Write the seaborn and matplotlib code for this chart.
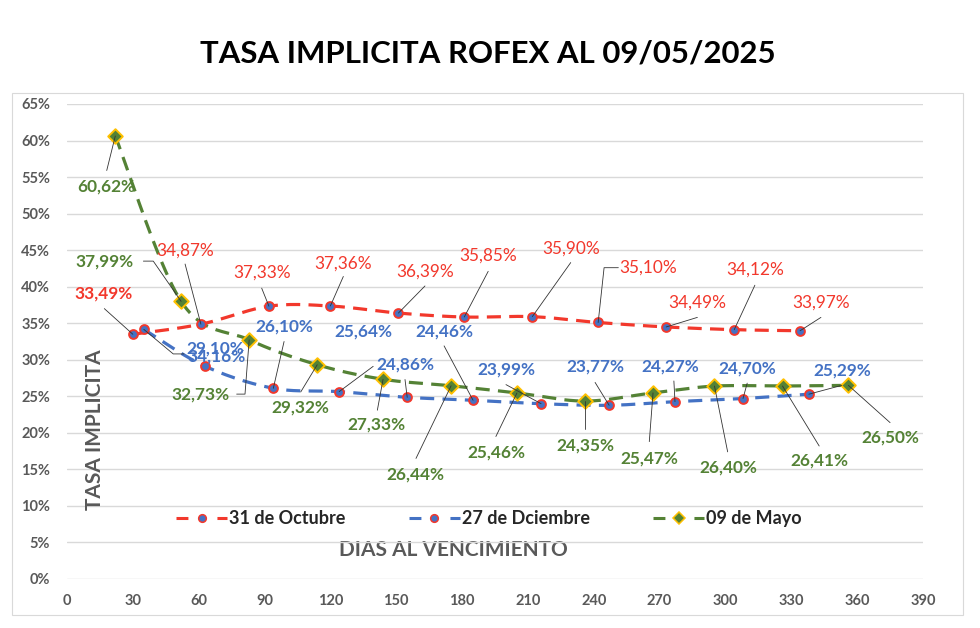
import numpy as np
import matplotlib
matplotlib.use("Agg")
import matplotlib.pyplot as plt
from matplotlib.lines import Line2D
from matplotlib.patches import Rectangle
import seaborn as sns

# dias al vencimiento / tasa implicita (%)
oct_days = [30, 61, 92, 120, 151, 181, 212, 242, 273, 304, 334]
oct_tasa = [33.49, 34.87, 37.33, 37.36, 36.39, 35.85, 35.90, 35.10, 34.49, 34.12, 33.97]
dic_days = [35, 63, 94, 124, 155, 185, 216, 247, 277, 308, 338]
dic_tasa = [34.16, 29.10, 26.10, 25.64, 24.86, 24.46, 23.99, 23.77, 24.27, 24.70, 25.29]
may_days = [22, 52, 83, 114, 144, 175, 205, 236, 267, 295, 326, 356]
may_tasa = [60.62, 37.99, 32.73, 29.32, 27.33, 26.44, 25.46, 24.35, 25.47, 26.40, 26.41, 26.50]

series_names = ["31 de Octubre", "27 de Dciembre", "09 de Mayo"]
x_ticks = list(range(0, 391, 30))
y_ticks = list(range(0, 66, 5))

# label placement (text centre) and leader lines
oct_lbl = [(16.5, 39.0), (53.8, 45.0), (88.7, 41.9), (125.6, 43.1), (163.1, 42.1), (191.9, 44.2),
           (229.5, 45.2), (264.8, 42.6), (287.2, 37.8), (313.4, 42.3), (343.5, 37.8)]
oct_lead = [[(17.0, 37.0)], [(53.8, 43.1)], [(88.7, 39.8)], [(125.9, 41.4)], [(163.1, 40.1)],
            [(191.9, 42.1)], [(229.5, 43.3)], [(251.2, 42.6), (244.7, 42.6)], [(287.2, 35.8)],
            [(313.4, 40.2)], [(343.5, 35.8)]]
dic_lbl = [(68.2, 30.4), (67.4, 31.6), (98.9, 34.5), (135.0, 33.8), (154.0, 29.4), (171.8, 33.9),
           (200.0, 28.6), (240.6, 29.1), (274.7, 29.1), (309.7, 28.8), (353.4, 28.5)]
dic_lead = [[(53.3, 30.8), (48.4, 30.8)], [], [(98.9, 32.5)], [(139.5, 29.1)], [(154.0, 27.3)],
            [(171.8, 31.9)], [(200.0, 26.6)], [(240.6, 26.9)], [(276.5, 27.1)], [(309.9, 26.8)],
            [(353.0, 26.5)]]
may_lbl = [(18.1, 53.7), (17.3, 43.5), (60.6, 25.3), (106.2, 23.4), (141.1, 21.1), (158.5, 14.3),
           (195.4, 17.3), (236.0, 18.2), (265.3, 16.5), (301.3, 15.3), (342.7, 16.2), (375.0, 19.3)]
may_lead = [[(18.1, 55.9)], [(34.8, 43.5), (39.3, 43.5)], [(77.3, 25.3), (81.1, 25.3)],
            [(106.5, 25.6)], [(141.4, 23.1)], [(159.0, 16.5)], [(195.4, 19.5)], [(236.0, 20.5)],
            [(265.3, 18.8)], [(301.0, 17.4)], [(342.7, 18.2)], [(375.0, 21.4)]]

RED = "#F2382C"
BLUE = "#4472C4"
GREEN = "#548235"
GOLD = "#FFC000"
GRAY = "#595959"


def smooth(xs, ys, n=24):
    # excel-like smoothed line (bezier through the points)
    pts = np.column_stack([xs, ys]).astype(float)
    P = np.vstack([pts[0], pts, pts[-1]])
    t = np.linspace(0, 1, n)[:, None]
    out = []
    for i in range(1, len(P) - 2):
        p0, p1, p2, p3 = P[i - 1], P[i], P[i + 1], P[i + 2]
        c1 = p1 + (p2 - p0) / 6
        c2 = p2 - (p3 - p1) / 6
        seg = (1 - t) ** 3 * p1 + 3 * (1 - t) ** 2 * t * c1 + 3 * (1 - t) * t ** 2 * c2 + t ** 3 * p2
        out.append(seg if i == 1 else seg[1:])
    return np.vstack(out)


sns.set_theme(style="white")
plt.rcParams["font.family"] = ["Lato", "DejaVu Sans"]

fig = plt.figure(figsize=(9.8, 6.28), dpi=100)
ax = fig.add_axes([67 / 980, 1 - 579 / 628, 856 / 980, 475 / 628])

dash = (0, (4.4, 2.6))
specs = [
    (oct_days, oct_tasa, RED, "o", BLUE, RED, oct_lbl, oct_lead, "normal"),
    (dic_days, dic_tasa, BLUE, "o", BLUE, RED, dic_lbl, dic_lead, "bold"),
    (may_days, may_tasa, GREEN, "D", GREEN, GOLD, may_lbl, may_lead, "bold"),
]

for days, tasa, col, mk, fc, ec, lbl, lead, weight in specs:
    curve = smooth(days, tasa)
    ax.plot(curve[:, 0], curve[:, 1], color=col, lw=2.3, linestyle=dash, zorder=2)
    sns.scatterplot(x=days, y=tasa, marker=mk, s=40 if mk == "o" else 55, color=fc,
                    edgecolor=ec, linewidth=1.4, zorder=3, ax=ax, legend=False)
    for i, (v, d) in enumerate(zip(tasa, days)):
        path = lead[i] + [(d, v)] if lead[i] else []
        if path:
            ax.plot([p[0] for p in path], [p[1] for p in path], color="#333333", lw=0.6, zorder=4)
        w = "bold" if (col == RED and i == 0) else weight
        ax.text(lbl[i][0], lbl[i][1], f"{v:.2f}%".replace(".", ","), ha="center", va="center",
                color=col, fontsize=12.4, fontweight=w, zorder=5)

ax.set_xlim(0, 390)
ax.set_ylim(0, 65)
ax.set_xticks(x_ticks)
ax.set_yticks(y_ticks)
ax.set_yticklabels([f"{t}%" for t in y_ticks])
ax.tick_params(axis="both", length=0, labelsize=10.5, labelcolor=GRAY)
ax.tick_params(axis="y", pad=12)
ax.tick_params(axis="x", pad=11)
for lab in ax.get_xticklabels() + ax.get_yticklabels():
    lab.set_fontweight("bold")
ax.yaxis.grid(True, color="#D9D9D9", linewidth=1.0)
ax.xaxis.grid(False)
ax.set_axisbelow(True)
for s in ax.spines.values():
    s.set_visible(False)

ax.set_xlabel("DIAS AL VENCIMIENTO", fontsize=15, fontweight="bold", color=GRAY)
ax.xaxis.set_label_coords(0.4515, 0.061)
ax.xaxis.label.set_va("center")
ax.set_ylabel("TASA IMPLICITA", fontsize=15, fontweight="bold", color=GRAY)
ax.yaxis.set_label_coords(0.0327, 0.3137)
ax.yaxis.label.set_va("center")

handles = []
for col, mk, fc, ec in [(RED, "o", BLUE, RED), (BLUE, "o", BLUE, RED), (GREEN, "D", GREEN, GOLD)]:
    handles.append(Line2D([0], [0], color=col, lw=2.2, linestyle=(0, (3.9, 9.5)), marker=mk,
                          markersize=5.5 if mk == "o" else 6, markerfacecolor=fc,
                          markeredgecolor=ec, markeredgewidth=1.1))
ax.legend(handles, series_names, ncol=3, loc="center", bbox_to_anchor=(0.493, 0.127),
          frameon=False, prop={"weight": "bold", "size": 13}, handlelength=2.82,
          handletextpad=0.12, columnspacing=3.5)

fig.text(0.4974, 0.9002, "TASA IMPLICITA ROFEX AL 09/05/2025", ha="center", va="baseline",
         fontsize=22.4, fontweight="bold", color="black")
fig.patches.append(Rectangle((12 / 980, 13 / 628), 951 / 980, 522 / 628, transform=fig.transFigure,
                             fill=False, edgecolor="#D9D9D9", lw=0.8))

fig.savefig("out.png", dpi=100)
